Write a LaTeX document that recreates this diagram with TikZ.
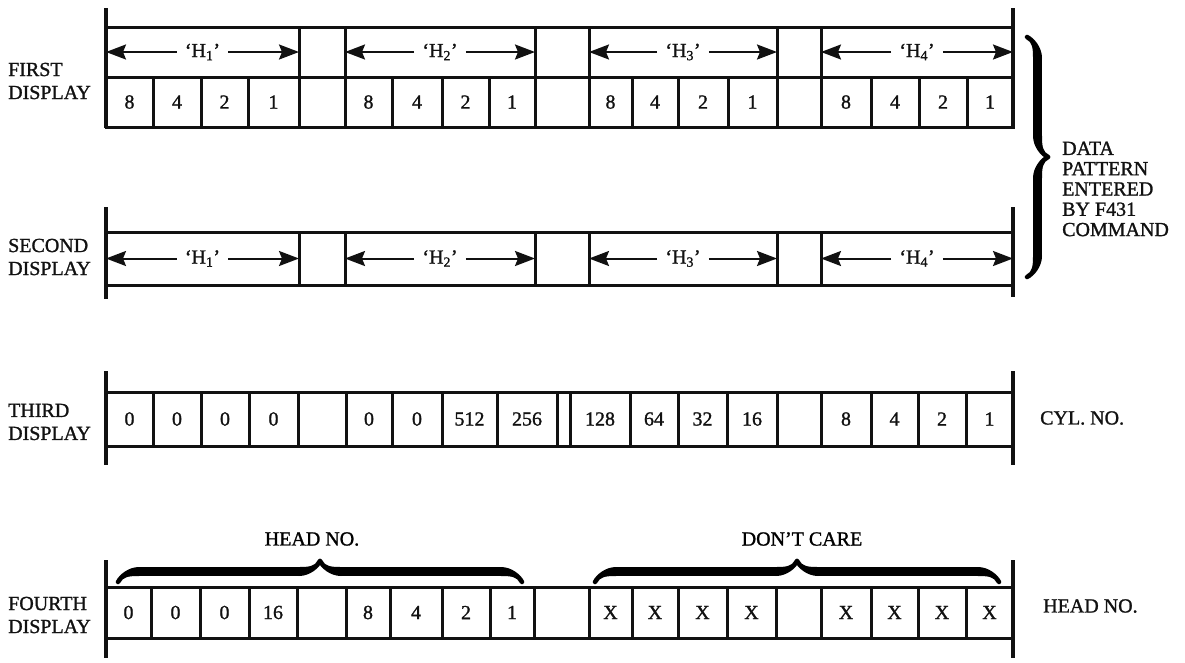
\documentclass[tikz,border=0pt]{standalone}
\usepackage{fontspec}
\setmainfont{Liberation Serif}[BoldFont=Liberation Serif, BoldFeatures={FakeBold=1.2}]
\usepackage{tikz}
\usetikzlibrary{arrows.meta, decorations.pathreplacing, calligraphy}
\definecolor{colorink}{HTML}{111111}

\begin{document}
\begin{tikzpicture}[
    % One unit is one pixel of the sheet, y runs downwards
    x=1pt, y=-1pt,
    font=\fontsize{20}{23}\selectfont\bfseries,
    % Plain register cell, borders of neighbours overlap
    cell/.style={
        rectangle,
        draw=colorink,
        line width=3pt,
        inner sep=0pt,
        outer sep=0pt,
        text=colorink
    },
    % Heavy end bars of each register
    bar/.style={
        draw=colorink,
        line width=3.5pt
    },
    % Field name sitting in the gap of its arrow
    hlabel/.style={
        inner sep=0pt,
        inner xsep=8pt,
        text=colorink
    },
    % Long arrows spanning a field
    harrow/.style={
        -{Stealth[length=20pt, width=15pt, inset=3pt]},
        draw=colorink,
        line width=2pt
    },
    sidelabel/.style={
        anchor=west,
        align=left,
        inner sep=0pt,
        text=colorink
    },
    hbrace/.style={
        decorate,
        decoration={calligraphic brace, amplitude=21pt},
        line width=9pt,
        colorink
    }
]

\useasboundingbox (0,0) rectangle (1185,662);

% ==============================
% First display
% ==============================
\foreach \xl/\xr [count=\i] in {106/299, 299/345, 345/535, 535/589, 589/777, 777/821, 821/1013}
    \node[cell, minimum width={\xr-\xl}, minimum height=50] (oneh-\i) at ({(\xl+\xr)/2},52) {};

\foreach \c/\n in {1/1, 3/2, 5/3, 7/4} {
    \node[hlabel] (onel-\n) at (oneh-\c) {`H\textsubscript{\n}'};
    \draw[harrow] (onel-\n) -- (oneh-\c.west);
    \draw[harrow] (onel-\n) -- (oneh-\c.east);
}

\foreach \xl/\xr/\v [count=\i] in {106/153/8, 153/201/4, 201/248/2, 248/299/1, 299/345/{},
        345/392/8, 392/442/4, 442/489/2, 489/535/1, 535/589/{},
        589/632/8, 632/678/4, 678/728/2, 728/777/1, 777/821/{},
        821/871/8, 871/919/4, 919/967/2, 967/1013/1}
    \node[cell, minimum width={\xr-\xl}, minimum height=50] (one-\i) at ({(\xl+\xr)/2},102) {\v};

\draw[bar] (106,8) -- (106,128);
\draw[bar] (1013,8) -- (1013,128);

\node[sidelabel] (lab1) at (8,81) {FIRST\\DISPLAY};

% ==============================
% Second display
% ==============================
\foreach \xl/\xr [count=\i] in {106/299, 299/345, 345/535, 535/589, 589/777, 777/821, 821/1013}
    \node[cell, minimum width={\xr-\xl}, minimum height=53] (two-\i) at ({(\xl+\xr)/2},258.5) {};

\foreach \c/\n in {1/1, 3/2, 5/3, 7/4} {
    \node[hlabel] (twol-\n) at (two-\c) {`H\textsubscript{\n}'};
    \draw[harrow] (twol-\n) -- (two-\c.west);
    \draw[harrow] (twol-\n) -- (two-\c.east);
}

\draw[bar] (106,207) -- (106,299);
\draw[bar] (1013,207) -- (1013,297);

\node[sidelabel] (lab2) at (8,257) {SECOND\\DISPLAY};

% Brace over the first two displays
\coordinate (pb-top) at (1027,37);
\coordinate (pb-bot) at (1027,277);
\draw[hbrace] (pb-top) -- (pb-bot);
\node[sidelabel, font=\fontsize{20}{20.3}\selectfont\bfseries] (pattern) at (1062,189)
    {DATA\\PATTERN\\ENTERED\\BY F431\\COMMAND};

% ==============================
% Third display
% ==============================
\foreach \xl/\xr/\v [count=\i] in {106/153/0, 153/201/0, 201/249/0, 249/298/0, 298/346/{},
        346/392/0, 392/442/0, 442/497/512, 497/557/256, 557/570/{},
        570/630/128, 630/678/64, 678/727/32, 727/777/16, 777/821/{},
        821/871/8, 871/918/4, 918/966/2, 966/1013/1}
    \node[cell, minimum width={\xr-\xl}, minimum height=54] (three-\i) at ({(\xl+\xr)/2},419) {\v};

\draw[bar] (106,371) -- (106,465);
\draw[bar] (1013,371) -- (1013,465);

\node[sidelabel] (lab3) at (8,422) {THIRD\\DISPLAY};
\node[sidelabel] (cyl) at (1040,418) {CYL. NO.};

% ==============================
% Fourth display
% ==============================
\foreach \xl/\xr/\v [count=\i] in {106/151/0, 151/200/0, 200/249/0, 249/297/16, 297/346/{},
        346/390/8, 390/442/4, 442/490/2, 490/534/1, 534/589/{},
        589/632/X, 632/678/X, 678/727/X, 727/776/X, 776/821/{},
        821/871/X, 871/918/X, 918/966/X, 966/1013/X}
    \node[cell, minimum width={\xr-\xl}, minimum height=51] (four-\i) at ({(\xl+\xr)/2},612.5) {\v};

\draw[bar] (106,560) -- (106,658);
\draw[bar] (1013,560) -- (1013,658);

\node[sidelabel] (lab4) at (8,615) {FOURTH\\DISPLAY};
\node[sidelabel] (headno) at (1043,606) {HEAD NO.};

% Braces over the fourth display
\coordinate (hb-l) at (118,582);
\coordinate (hb-r) at (522,582);
\draw[hbrace] (hb-l) -- (hb-r);
\node (headlbl) at (312,539) {HEAD NO.};

\coordinate (db-l) at (595,582);
\coordinate (db-r) at (999,582);
\draw[hbrace] (db-l) -- (db-r);
\node (dontcare) at (802,539) {DON'T CARE};

\end{tikzpicture}
\end{document}
